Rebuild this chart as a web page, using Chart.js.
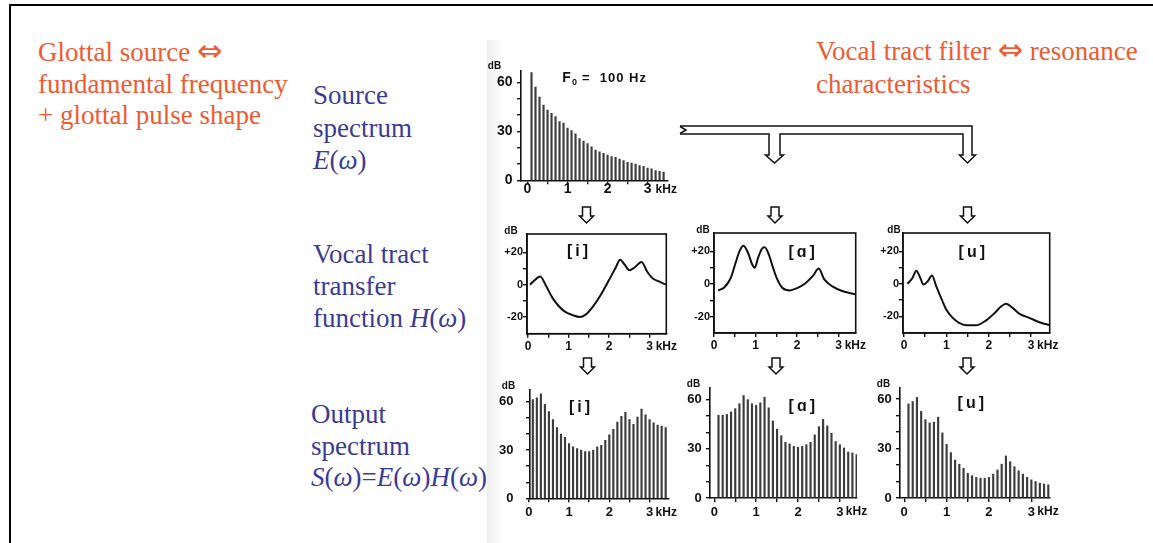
<!DOCTYPE html>
<html>
<head>
<meta charset="utf-8">
<script src="https://cdn.jsdelivr.net/npm/chart.js@4.4.1/dist/chart.umd.min.js"></script>
<style>
  html, body { margin: 0; padding: 0; background: #fff; }
  body { width: 1153px; height: 543px; position: relative; overflow: hidden;
         font-family: "Liberation Serif", "DejaVu Serif", serif; }
  .rule-top { position: absolute; left: 9px; top: 4px; width: 1144px; height: 2px; background: #000; }
  .rule-left { position: absolute; left: 9px; top: 4px; width: 2px; height: 539px; background: #000; }
  .scan-edge { position: absolute; left: 487px; top: 40px; width: 16px; height: 503px;
               background: linear-gradient(to right, rgba(0,0,0,0.07), rgba(0,0,0,0)); }
  .txt { position: absolute; font-size: 27px; white-space: nowrap; }
  .dbl { font-family: "DejaVu Sans", sans-serif; font-size: 1.12em; font-weight: normal; }
  .orange { color: #ef5a32; }
  .blue { color: #3b3b95; }
  canvas { position: absolute; filter: blur(0.35px); }
  .arrows { position: absolute; left: 0; top: 0; filter: blur(0.3px); }
</style>
</head>
<body>
<div class="rule-top"></div>
<div class="rule-left"></div>
<div class="scan-edge"></div>

<div class="txt orange" style="left:38px;top:35px;line-height:31.7px;">Glottal source <span class="dbl">⇔</span><br>fundamental frequency<br>+ glottal pulse shape</div>
<div class="txt orange" style="left:816px;top:32.5px;line-height:33.4px;">Vocal tract filter <span class="dbl">⇔</span> resonance<br>characteristics</div>

<div class="txt blue" style="left:313px;top:79px;line-height:32.5px;">Source<br>spectrum<br><i>E</i>(<i>ω</i>)</div>
<div class="txt blue" style="left:313px;top:237.5px;line-height:32.2px;">Vocal tract<br>transfer<br>function <i>H</i>(<i>ω</i>)</div>
<div class="txt blue" style="left:311px;top:399px;line-height:31.7px;">Output<br>spectrum<br><i>S</i>(<i>ω</i>)=<i>E</i>(<i>ω</i>)<i>H</i>(<i>ω</i>)</div>

<svg class="arrows" width="1153" height="543" viewBox="0 0 1153 543">
  <g fill="#fff" stroke="#111" stroke-width="1.5" stroke-linejoin="miter">
    <!-- split feed from the source spectrum to the three vowels -->
    <path d="M686,126 H972 V155 H975.5 L967.5,163 L959.5,155 H963 V134 H780 V155 H783.5 L774.5,163 L765.5,155 H769 V134 H686"/>
    <path d="M680,126.5 L686,130 L680,133.5" fill="none"/>
    <path d="M680,126 H686 M680,134 H686" fill="none"/>
  </g>
  <g id="small-arrows" fill="#fff" stroke="#111" stroke-width="1.5"></g>
</svg>

<script>
// ---- frequency axis (kHz) and level ticks (dB) ----
const HARMONIC_KHZ = [0.1, 0.2, 0.3, 0.4, 0.5, 0.6, 0.7, 0.8, 0.9, 1.0,
                      1.1, 1.2, 1.3, 1.4, 1.5, 1.6, 1.7, 1.8, 1.9, 2.0,
                      2.1, 2.2, 2.3, 2.4, 2.5, 2.6, 2.7, 2.8, 2.9, 3.0,
                      3.1, 3.2, 3.3, 3.4];
const FREQ_TICKS = [0, 0.5, 1, 1.5, 2, 2.5, 3];
const FREQ_LABELED = [0, 1, 2, 3];
const SPEC_DB_TICKS = [0, 10, 20, 30, 40, 50, 60];
const SPEC_DB_LABELED = [0, 30, 60];
const TF_DB_TICKS = [-20, -10, 0, 10, 20];
const TF_DB_LABELED = [-20, 0, 20];

// ---- source spectrum E(w), harmonics of F0 = 100 Hz (dB) ----
const SOURCE_DB = [66, 57, 51, 46, 43, 41, 39, 36, 35, 32,
                   30.5, 28.5, 25.5, 24, 22.5, 20.5, 18.5, 17.5, 16.5, 15.5,
                   14.5, 14, 13, 12, 11, 10.5, 10, 9, 8.5, 7.5,
                   7, 6, 5.5, 5];

// ---- vocal tract transfer functions H(w): frequency (kHz) / level (dB) ----
const TF_I_KHZ = [0.05, 0.15, 0.3, 0.45, 0.6, 0.75, 0.9, 1.1, 1.28, 1.42, 1.6, 1.8, 2.0, 2.17, 2.27, 2.38, 2.5, 2.62, 2.8, 2.94, 3.07, 3.23, 3.4];
const TF_I_DB  = [0, 2.5, 5, -1, -8, -13, -16.5, -18.8, -20, -18.5, -13.5, -6, 3, 11, 15.5, 12.5, 9, 10.5, 14, 8, 4, 2, 0];

const TF_A_KHZ = [0.1, 0.25, 0.4, 0.52, 0.62, 0.71, 0.82, 0.92, 0.98, 1.06, 1.15, 1.22, 1.32, 1.42, 1.52, 1.65, 1.82, 2.0, 2.2, 2.38, 2.52, 2.65, 2.85, 3.1, 3.42];
const TF_A_DB  = [-4, -2, 3.5, 13, 20.5, 23.5, 19, 12, 10, 16, 21.5, 22.5, 18, 10, 3, -2.5, -4, -2.5, 0.5, 5, 9.5, 3, -1.5, -4.5, -6.5];

const TF_U_KHZ = [0.08, 0.2, 0.29, 0.37, 0.46, 0.56, 0.66, 0.76, 0.88, 1.0, 1.15, 1.3, 1.47, 1.7, 1.94, 2.14, 2.29, 2.41, 2.57, 2.73, 2.96, 3.2, 3.44];
const TF_U_DB  = [0, 3.5, 8, 4.5, -0.5, 1.5, 5, -1.5, -9, -16, -21, -24, -25.5, -25.6, -22.5, -18, -14, -12.3, -15, -18.5, -21, -23.7, -25.5];

// ---- output spectra S(w) = E(w)H(w) (dB) ----
const OUT_I_DB = [61.5, 62.5, 65, 58.5, 54, 49, 44, 40, 38, 34,
                  32, 31, 30, 29, 29, 30, 32, 33, 36, 39.5,
                  43, 47.5, 51, 53.5, 49, 46, 50.5, 55.5, 52, 49,
                  47, 45.5, 45, 44];
const OUT_A_DB = [50.5, 50.5, 51, 52.5, 54.5, 57.5, 62.5, 60, 57.5, 56.5,
                  58, 61.5, 55, 47, 42, 38, 34, 33, 31.5, 31,
                  31.5, 32.5, 34, 38.5, 43.5, 48, 44, 39.5, 34.5, 32.5,
                  30.5, 28, 27.5, 26.5];
const OUT_U_DB = [57, 58.5, 61, 52.5, 47.5, 45.5, 46, 49, 39.5, 32.5,
                  27.5, 23, 20.5, 18, 15, 13.5, 12.5, 12, 12, 12.5,
                  14.5, 17, 20.5, 25.5, 22, 19, 16.5, 14.5, 12.5, 11,
                  10, 9, 8.5, 8];

const INK = '#111';
const BAR_INK = '#3c3c3c';
const SANS = '"Liberation Sans", Arial, "DejaVu Sans", sans-serif';

// space reserved around the plot area inside each canvas
const YW = 46, XH = 28, PT = 18, PR = 36;

// labels drawn on each panel: dB unit, kHz unit, vowel tag, optional frame
const panelNotes = {
  id: 'panelNotes',
  afterDraw(chart, args, o) {
    const { ctx, chartArea: a, scales: { x, y } } = chart;
    ctx.save();
    ctx.fillStyle = INK;
    ctx.strokeStyle = INK;
    if (o.box) {
      ctx.lineWidth = 1.6;
      ctx.strokeRect(a.left, a.top, a.right - a.left, a.bottom - a.top);
    }
    ctx.textBaseline = 'middle';
    ctx.textAlign = 'center';
    ctx.font = 'bold 10px ' + SANS;
    ctx.fillText('dB', a.left + o.db[0], a.top + o.db[1]);
    ctx.textAlign = 'left';
    ctx.font = 'bold ' + o.khzSize + 'px ' + SANS;
    ctx.fillText('kHz', x.getPixelForValue(3) + o.khz[0], a.bottom + o.khz[1]);
    if (o.tag) {
      ctx.font = 'bold 16px ' + SANS;
      ctx.textAlign = 'center';
      ctx.letterSpacing = '3px';
      ctx.fillText(o.tag, x.getPixelForValue(o.tagAt[0]) + 1.5, y.getPixelForValue(o.tagAt[1]));
      ctx.letterSpacing = '0px';
    }
    if (o.f0) {
      let px = x.getPixelForValue(o.f0[0]);
      const py = y.getPixelForValue(o.f0[1]);
      ctx.textAlign = 'left';
      ctx.font = 'bold 14px ' + SANS;
      ctx.fillText('F', px, py);
      px += ctx.measureText('F').width + 1;
      ctx.font = 'bold 9px ' + SANS;
      ctx.fillText('0', px, py + 4);
      px += ctx.measureText('0').width + 5;
      ctx.font = 'bold 13px ' + SANS;
      ctx.letterSpacing = '1px';
      ctx.fillText('=  100 Hz', px, py);
      ctx.letterSpacing = '0px';
    }
    ctx.restore();
  }
};

function axisX(p) {
  return {
    type: 'linear', min: p.xMin, max: p.xMax, bounds: 'data', offset: false,
    grid: { display: true, offset: false, drawOnChartArea: false, drawTicks: true, tickLength: 4, color: INK, lineWidth: 1.4 },
    border: { display: true, color: INK, width: 1.6 },
    afterBuildTicks: s => { s.ticks = FREQ_TICKS.map(v => ({ value: v })); },
    afterFit: s => { s.height = XH; },
    ticks: {
      color: INK, autoSkip: false, maxRotation: 0, padding: p.xPad,
      font: { family: SANS, weight: 'bold', size: p.font, lineHeight: 1 },
      callback: v => FREQ_LABELED.includes(v) ? String(v) : ''
    }
  };
}

function axisY(p, ticks, labeled, fmt) {
  return {
    type: 'linear', min: p.yMin, max: p.yMax, bounds: 'data',
    grid: { display: true, drawOnChartArea: false, drawTicks: true, tickLength: 4, color: INK, lineWidth: 1.4 },
    border: { display: true, color: INK, width: 1.6 },
    afterBuildTicks: s => { s.ticks = ticks.map(v => ({ value: v })); },
    afterFit: s => { s.width = YW; },
    ticks: {
      color: INK, autoSkip: false, padding: p.yPad,
      font: { family: SANS, weight: 'bold', size: p.yFont || p.font, lineHeight: 1 },
      callback: v => labeled.includes(v) ? fmt(v) : ''
    }
  };
}

function makeCanvas(area) {
  const c = document.createElement('canvas');
  const w = Math.round(YW + (area.r - area.l) + PR);
  const h = Math.round(PT + (area.b - area.t) + XH);
  c.width = w; c.height = h;
  c.style.left = (area.l - YW) + 'px';
  c.style.top = (area.t - PT) + 'px';
  c.style.width = w + 'px';
  c.style.height = h + 'px';
  document.body.appendChild(c);
  // keep the plot area exactly where requested after rounding the canvas size
  return { canvas: c, padRight: w - YW - (area.r - area.l), padBottom: h - PT - (area.b - area.t) - XH };
}

function spectrumPanel(p, values) {
  const { canvas, padRight, padBottom } = makeCanvas(p.area);
  return new Chart(canvas, {
    type: 'bar',
    data: {
      datasets: [{
        data: HARMONIC_KHZ.map((f, i) => ({ x: f, y: values[i] })),
        backgroundColor: BAR_INK,
        borderWidth: 0,
        barThickness: 1.5
      }]
    },
    options: {
      responsive: false, animation: false, devicePixelRatio: 1,
      layout: { padding: { left: 0, top: PT, right: padRight, bottom: padBottom } },
      plugins: { legend: { display: false }, tooltip: { enabled: false }, panelNotes: p.notes },
      scales: {
        x: axisX(p),
        y: axisY(p, SPEC_DB_TICKS, SPEC_DB_LABELED, v => String(v))
      }
    },
    plugins: [panelNotes]
  });
}

function transferPanel(p, khz, db) {
  const { canvas, padRight, padBottom } = makeCanvas(p.area);
  return new Chart(canvas, {
    type: 'line',
    data: {
      datasets: [{
        data: khz.map((f, i) => ({ x: f, y: db[i] })),
        borderColor: INK,
        borderWidth: 2,
        pointRadius: 0,
        fill: false,
        cubicInterpolationMode: 'monotone'
      }]
    },
    options: {
      responsive: false, animation: false, devicePixelRatio: 1,
      layout: { padding: { left: 0, top: PT, right: padRight, bottom: padBottom } },
      plugins: { legend: { display: false }, tooltip: { enabled: false }, panelNotes: p.notes },
      scales: {
        x: axisX(p),
        y: axisY(p, TF_DB_TICKS, TF_DB_LABELED, v => (v > 0 ? '+' + v : String(v)))
      }
    },
    plugins: [panelNotes]
  });
}

// Source spectrum
spectrumPanel({
  area: { l: 520.5, t: 70.7, r: 666.7, b: 180 },
  xMin: -0.1625, xMax: 3.49, yMin: 0, yMax: 66.9,
  font: 14, xPad: -2.3, yPad: 4.5,
  notes: { db: [-26.5, -5], khz: [8, 9], khzSize: 12, f0: [0.87, 62.5] }
}, SOURCE_DB);

// Transfer functions
transferPanel({
  area: { l: 526.7, t: 234.3, r: 666, b: 334 },
  xMin: -0.025, xMax: 3.41, yMin: -30.3, yMax: 31.35,
  font: 12, yFont: 11, xPad: 3, yPad: 0,
  notes: { box: true, db: [-16, -3], khz: [6, 13], khzSize: 12, tag: '[i]', tagAt: [1.22, 20.4] }
}, TF_I_KHZ, TF_I_DB);

transferPanel({
  area: { l: 714.3, t: 233.3, r: 856, b: 333.3 },
  xMin: 0, xMax: 3.41, yMin: -30.1, yMax: 31.3,
  font: 12, yFont: 11, xPad: 3, yPad: 0,
  notes: { box: true, db: [-11, -3], khz: [6, 13], khzSize: 12, tag: '[ɑ]', tagAt: [2.11, 19.1] }
}, TF_A_KHZ, TF_A_DB);

transferPanel({
  area: { l: 903.3, t: 233.3, r: 1050, b: 333.3 },
  xMin: -0.024, xMax: 3.44, yMin: -30.3, yMax: 31.2,
  font: 12, yFont: 11, xPad: 3, yPad: 0,
  notes: { box: true, db: [-9, -3], khz: [6, 13], khzSize: 12, tag: '[u]', tagAt: [1.6, 19] }
}, TF_U_KHZ, TF_U_DB);

// Output spectra
spectrumPanel({
  area: { l: 529.5, t: 389, r: 668, b: 498.3 },
  xMin: 0.03, xMax: 3.47, yMin: 0, yMax: 67.4,
  font: 13, xPad: 3.5, yPad: 12.5,
  notes: { db: [-21.5, -4], khz: [6, 14], khzSize: 12, tag: '[i]', tagAt: [1.26, 56.3] }
}, OUT_I_DB);

spectrumPanel({
  area: { l: 710, t: 388.3, r: 857, b: 498.3 },
  xMin: -0.103, xMax: 3.41, yMin: 0, yMax: 67.1,
  font: 13, xPad: 3.5, yPad: 4.3,
  notes: { db: [-16.5, -4], khz: [6, 14], khzSize: 12, tag: '[ɑ]', tagAt: [2.09, 55.7] }
}, OUT_A_DB);

spectrumPanel({
  area: { l: 900, t: 388.3, r: 1050, b: 498.3 },
  xMin: -0.1, xMax: 3.44, yMin: 0, yMax: 66.7,
  font: 13, xPad: 3.5, yPad: 4.3,
  notes: { db: [-16.5, -4], khz: [6, 14], khzSize: 12, tag: '[u]', tagAt: [1.57, 57] }
}, OUT_U_DB);

// hollow down arrows between the rows of panels
const ARROW_SPOTS = [[586.5, 207], [775, 207], [967.5, 207], [587.5, 358], [776, 358], [967, 358]];
const arrowGroup = document.getElementById('small-arrows');
ARROW_SPOTS.forEach(([cx, y0]) => {
  const path = document.createElementNS('http://www.w3.org/2000/svg', 'path');
  path.setAttribute('d',
    `M${cx - 4},${y0} H${cx + 4} V${y0 + 9} H${cx + 7} L${cx},${y0 + 16} L${cx - 7},${y0 + 9} H${cx - 4} Z`);
  arrowGroup.appendChild(path);
});
</script>
</body>
</html>
